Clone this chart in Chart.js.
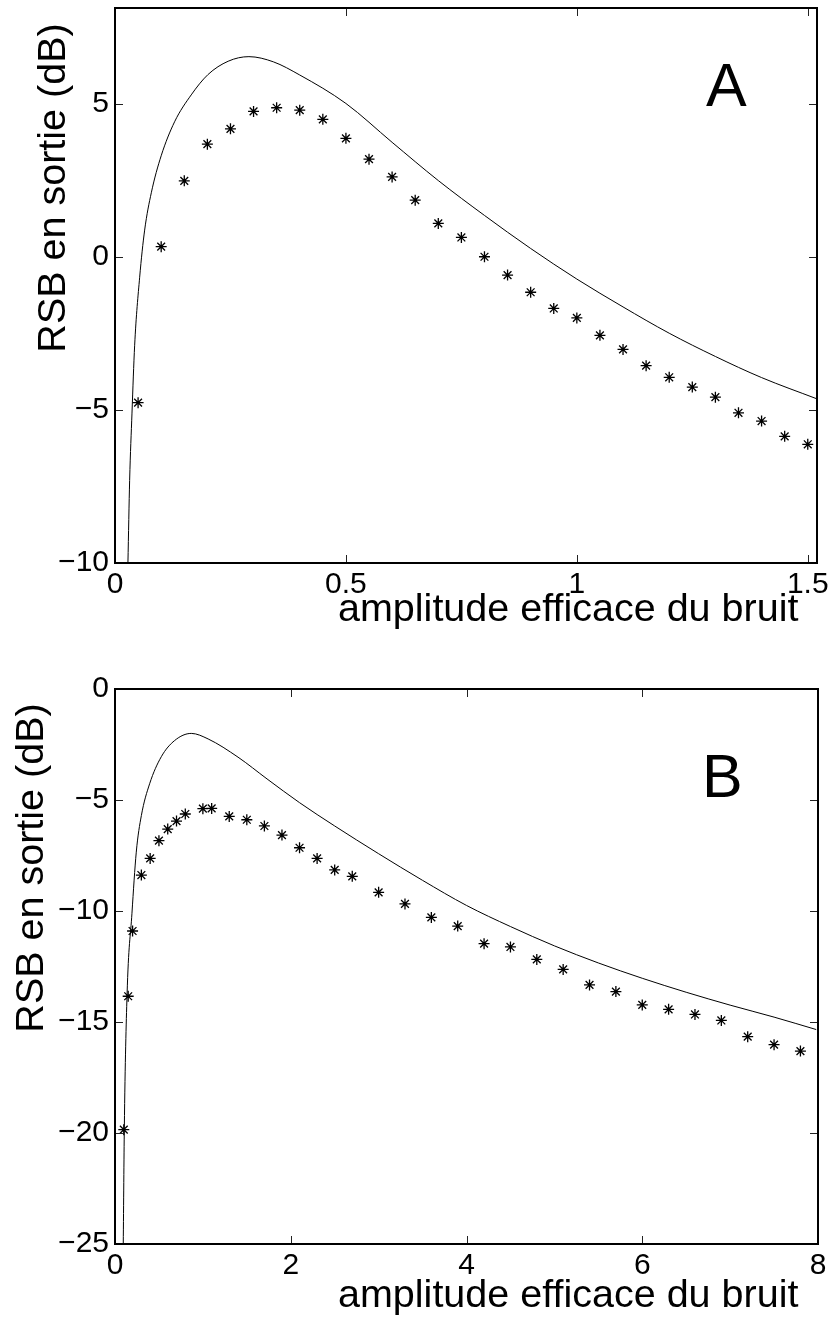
<!DOCTYPE html>
<html>
<head>
<meta charset="utf-8">
<script src="https://cdn.jsdelivr.net/npm/chart.js@4/dist/chart.umd.min.js"></script>
<style>
  body { margin: 0; background: #fff; }
  canvas { display: block; }
</style>
</head>
<body>
<canvas id="chartA" width="832" height="660"></canvas>
<canvas id="chartB" width="832" height="659"></canvas>
<script>
// panel A : simulated points (stars) and theory (solid line)
let noiseA = [0.05, 0.10, 0.15, 0.20, 0.25, 0.30, 0.35, 0.40, 0.45, 0.50,
              0.55, 0.60, 0.65, 0.70, 0.75, 0.80, 0.85, 0.90, 0.95, 1.00,
              1.05, 1.10, 1.15, 1.20, 1.25, 1.30, 1.35, 1.40, 1.45, 1.50];
let measuredA = [-4.76, 0.34, 2.49, 3.69, 4.19, 4.76, 4.88, 4.80, 4.50, 3.88,
                 3.20, 2.62, 1.86, 1.10, 0.64, 0.01, -0.59, -1.15, -1.68, -1.99,
                 -2.56, -3.02, -3.55, -3.93, -4.25, -4.58, -5.09, -5.36, -5.86, -6.12];
let theoryNoiseA = [0.028, 0.0317, 0.0368, 0.0425, 0.0534, 0.0642, 0.0786, 0.100, 0.129, 0.165,
                    0.201, 0.245, 0.29, 0.343, 0.40, 0.50, 0.60, 0.70, 0.80, 0.90,
                    1.00, 1.10, 1.20, 1.30, 1.40, 1.519];
let theoryA = [-10.0, -7.3, -5.1, -2.9, -0.66, 0.88, 2.10, 3.31, 4.42, 5.30,
               5.96, 6.40, 6.55, 6.38, 5.95, 5.02, 3.75, 2.50, 1.36, 0.28,
               -0.72, -1.63, -2.49, -3.25, -3.94, -4.63];
let xTicksA = [0, 0.5, 1, 1.5];
let yTicksA = [-10, -5, 0, 5];

// panel B
let noiseB = [0.10, 0.15, 0.20, 0.30, 0.40, 0.50, 0.60, 0.70, 0.80, 1.00,
              1.10, 1.30, 1.50, 1.70, 1.90, 2.10, 2.30, 2.50, 2.70, 3.00,
              3.30, 3.60, 3.90, 4.20, 4.50, 4.80, 5.10, 5.40, 5.70, 6.00,
              6.30, 6.60, 6.90, 7.20, 7.50, 7.80];
let measuredB = [-19.85, -13.84, -10.90, -8.38, -7.63, -6.83, -6.31, -5.95, -5.63, -5.39,
                 -5.38, -5.74, -5.89, -6.17, -6.58, -7.15, -7.63, -8.15, -8.44, -9.16,
                 -9.68, -10.29, -10.68, -11.47, -11.62, -12.18, -12.63, -13.33, -13.63, -14.23,
                 -14.43, -14.66, -14.93, -15.66, -16.02, -16.31];
let theoryNoiseB = [0.094, 0.106, 0.137, 0.193, 0.242, 0.30, 0.394, 0.527, 0.679, 0.868,
                    1.06, 1.40, 1.73, 2.10, 2.50, 3.00, 3.50, 4.00, 4.50, 5.00,
                    5.50, 6.00, 6.50, 7.00, 7.50, 7.98];
let theoryB = [-25.0, -19.8, -13.8, -10.1, -7.35, -5.70, -4.27, -3.05, -2.32, -2.00,
               -2.25, -3.07, -4.05, -5.12, -6.17, -7.42, -8.62, -9.75, -10.70, -11.57,
               -12.34, -13.03, -13.66, -14.24, -14.78, -15.34];
let xTicksB = [0, 2, 4, 6, 8];
let yTicksB = [-25, -20, -15, -10, -5, 0];

let xTitle = 'amplitude efficace du bruit';
let yTitle = 'RSB en sortie (dB)';

Chart.defaults.font.family = '"Liberation Sans", Arial, sans-serif';
Chart.defaults.color = '#000';

function pairs(xs, ys) {
    return xs.map((x, i) => ({ x: x, y: ys[i] }));
}

function minusLabel(v) {
    return v < 0 ? '\u2212' + Math.abs(v) : String(v);
}

// matlab style box, inward ticks and the free texts
let matlabFrame = {
    id: 'matlabFrame',
    afterDraw(chart, args, o) {
        let ctx = chart.ctx;
        let a = chart.chartArea;
        let sx = chart.scales.x;
        let sy = chart.scales.y;
        ctx.save();
        ctx.strokeStyle = '#222';
        ctx.lineWidth = 1;
        ctx.beginPath();
        sx.ticks.forEach(t => {
            let px = Math.round(sx.getPixelForValue(t.value)) + 0.5;
            if (px <= a.left + 2 || px >= a.right - 2) return;
            ctx.moveTo(px, a.bottom); ctx.lineTo(px, a.bottom - 8);
            ctx.moveTo(px, a.top); ctx.lineTo(px, a.top + 8);
        });
        sy.ticks.forEach(t => {
            let py = Math.round(sy.getPixelForValue(t.value)) + 0.5;
            if (py <= a.top + 2 || py >= a.bottom - 2) return;
            ctx.moveTo(a.left, py); ctx.lineTo(a.left + 8, py);
            ctx.moveTo(a.right, py); ctx.lineTo(a.right - 8, py);
        });
        ctx.stroke();
        ctx.strokeStyle = '#000';
        ctx.lineWidth = 2;
        ctx.strokeRect(a.left, a.top, a.right - a.left, a.bottom - a.top);

        ctx.fillStyle = '#000';
        ctx.textBaseline = 'alphabetic';
        ctx.font = '39.5px "Liberation Sans", Arial, sans-serif';
        ctx.textAlign = 'left';
        ctx.fillText(xTitle, o.xTitleX, o.xTitleY);
        ctx.save();
        ctx.translate(o.yTitleX, o.yTitleY);
        ctx.rotate(-Math.PI / 2);
        ctx.textAlign = 'center';
        ctx.fillText(yTitle, 0, 0);
        ctx.restore();
        ctx.font = '61px "Liberation Sans", Arial, sans-serif';
        ctx.textAlign = 'left';
        ctx.fillText(o.letter, o.letterX, o.letterY);
        ctx.restore();
    }
};

function makePanel(id, cfg) {
    let c = document.getElementById(id);
    return new Chart(c.getContext('2d'), {
        type: 'scatter',
        data: {
            datasets: [{
                label: 'theorie',
                data: pairs(cfg.tx, cfg.ty),
                showLine: true,
                borderColor: '#000',
                borderWidth: 1,
                pointRadius: 0,
                cubicInterpolationMode: 'monotone'
            }, {
                label: 'simulation',
                data: pairs(cfg.mx, cfg.my),
                showLine: false,
                pointStyle: 'star',
                pointRadius: 5.5,
                pointBorderWidth: 1.3,
                pointBorderColor: '#000',
                pointBackgroundColor: '#000'
            }]
        },
        options: {
            responsive: false,
            devicePixelRatio: 1,
            animation: false,
            events: [],
            layout: { padding: { top: cfg.top, right: cfg.right, left: 0, bottom: 0 } },
            plugins: {
                legend: { display: false },
                tooltip: { enabled: false },
                matlabFrame: cfg.frame
            },
            scales: {
                x: {
                    type: 'linear',
                    min: cfg.xMin, max: cfg.xMax,
                    grid: { display: false, drawTicks: false },
                    border: { display: false },
                    afterBuildTicks: s => { s.ticks = cfg.xTicks.map(v => ({ value: v })); },
                    afterFit: s => { s.height = cfg.xHeight; s.paddingLeft = 0; s.paddingRight = 0; },
                    ticks: {
                        font: { size: 30 },
                        padding: 4,
                        maxRotation: 0,
                        autoSkip: false,
                        callback: minusLabel
                    }
                },
                y: {
                    type: 'linear',
                    min: cfg.yMin, max: cfg.yMax,
                    grid: { display: false, drawTicks: false },
                    border: { display: false },
                    afterBuildTicks: s => { s.ticks = cfg.yTicks.map(v => ({ value: v })); },
                    afterFit: s => { s.width = 115; s.paddingTop = 0; s.paddingBottom = 0; },
                    ticks: {
                        font: { size: 30 },
                        padding: 6,
                        autoSkip: false,
                        callback: minusLabel
                    }
                }
            }
        },
        plugins: [matlabFrame]
    });
}

let chartA = makePanel('chartA', {
    tx: theoryNoiseA, ty: theoryA, mx: noiseA, my: measuredA,
    xMin: 0, xMax: 1.52, yMin: -10, yMax: 8.14,
    xTicks: xTicksA, yTicks: yTicksA,
    top: 8, right: 15, xHeight: 97,
    frame: { xTitleX: 338, xTitleY: 621, yTitleX: 65, yTitleY: 188, letter: 'A', letterX: 706, letterY: 106 }
});

let chartB = makePanel('chartB', {
    tx: theoryNoiseB, ty: theoryB, mx: noiseB, my: measuredB,
    xMin: 0, xMax: 8, yMin: -25, yMax: 0,
    xTicks: xTicksB, yTicks: yTicksB,
    top: 29, right: 14, xHeight: 75,
    frame: { xTitleX: 338, xTitleY: 647, yTitleX: 43, yTitleY: 208, letter: 'B', letterX: 702, letterY: 137 }
});
</script>
</body>
</html>
